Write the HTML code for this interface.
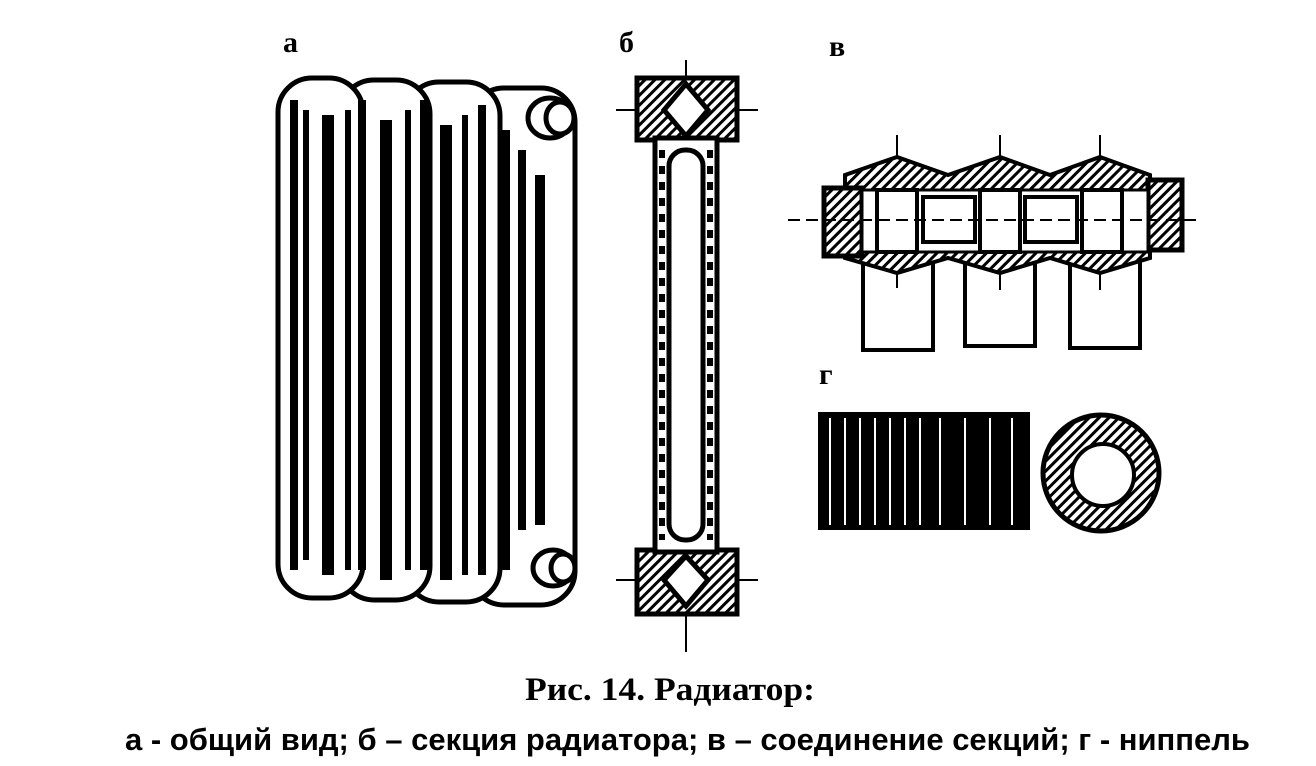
<!DOCTYPE html>
<html><head><meta charset="utf-8"><style>
html,body{margin:0;padding:0;background:#fff;width:1316px;height:766px;overflow:hidden}
svg{position:absolute;left:0;top:0}
.t{font-family:"Liberation Serif",serif;font-weight:bold}
</style></head><body>
<svg width="1316" height="766" viewBox="0 0 1316 766">
<defs>
<pattern id="h" width="7" height="7" patternUnits="userSpaceOnUse" patternTransform="rotate(45)">
<rect width="7" height="7" fill="#fff"/><rect width="3" height="7" fill="#000"/></pattern>
</defs>
<!-- labels -->
<text x="283" y="52" class="t" font-size="30">а</text>
<text x="619" y="52" class="t" font-size="30">б</text>
<text x="829" y="56" class="t" font-size="30">в</text>
<text x="819" y="384" class="t" font-size="30">г</text>

<!-- (а) radiator -->
<g stroke="#000" fill="#fff" stroke-width="5">
<rect x="470" y="88" width="105" height="517" rx="34"/>
<rect x="405" y="82" width="95" height="520" rx="34"/>
<rect x="340" y="80" width="90" height="520" rx="34"/>
<rect x="278" y="78" width="85" height="520" rx="34"/>
</g>
<g fill="#000">
<rect x="290" y="100" width="8" height="470"/><rect x="303" y="110" width="6" height="450"/>
<rect x="322" y="115" width="12" height="460"/><rect x="345" y="110" width="6" height="460"/>
<rect x="358" y="100" width="8" height="470"/><rect x="380" y="120" width="12" height="460"/>
<rect x="405" y="110" width="6" height="460"/><rect x="420" y="100" width="8" height="470"/>
<rect x="440" y="125" width="12" height="455"/><rect x="462" y="115" width="6" height="460"/>
<rect x="478" y="105" width="8" height="470"/><rect x="498" y="130" width="12" height="440"/>
<rect x="518" y="150" width="8" height="380"/><rect x="535" y="175" width="10" height="350"/>
</g>
<g stroke="#000" stroke-width="5" fill="#fff">
<ellipse cx="550" cy="118" rx="22" ry="20"/><ellipse cx="560" cy="118" rx="14" ry="16"/>
<ellipse cx="553" cy="568" rx="20" ry="18"/><ellipse cx="563" cy="568" rx="12" ry="14"/>
</g>

<!-- (б) section -->
<g stroke="#000" stroke-width="2">
<line x1="686" y1="60" x2="686" y2="150"/><line x1="616" y1="110" x2="758" y2="110"/>
<line x1="686" y1="540" x2="686" y2="652"/><line x1="616" y1="580" x2="758" y2="580"/>
</g>
<rect x="637" y="78" width="100" height="62" fill="url(#h)" stroke="#000" stroke-width="5"/>
<rect x="637" y="550" width="100" height="64" fill="url(#h)" stroke="#000" stroke-width="5"/>
<path d="M686 84 L708 110 L686 136 L664 110 Z" fill="#fff" stroke="#000" stroke-width="5"/>
<path d="M686 556 L708 580 L686 606 L664 580 Z" fill="#fff" stroke="#000" stroke-width="5"/>
<rect x="655" y="138" width="62" height="414" fill="#fff" stroke="#000" stroke-width="5"/>
<rect x="669" y="150" width="34" height="390" rx="16" fill="#fff" stroke="#000" stroke-width="5"/>
<g stroke="#000" stroke-width="6" stroke-dasharray="8 8">
<line x1="662" y1="150" x2="662" y2="540"/><line x1="710" y1="150" x2="710" y2="540"/></g>

<!-- (в) connection -->
<g stroke="#000" stroke-width="2">
<line x1="897" y1="135" x2="897" y2="158"/><line x1="1000" y1="135" x2="1000" y2="158"/><line x1="1100" y1="135" x2="1100" y2="158"/>
</g>
<g stroke="#000" stroke-width="4" fill="#fff">
<rect x="863" y="258" width="70" height="92"/><rect x="965" y="258" width="70" height="88"/><rect x="1070" y="258" width="70" height="90"/>
</g>
<path d="M845 175 L897 157 L948 175 L1000 157 L1050 175 L1100 157 L1150 175 L1150 258 L1100 273 L1050 258 L1000 273 L948 258 L897 273 L845 258 Z" fill="url(#h)" stroke="#000" stroke-width="4"/>
<rect x="824" y="188" width="38" height="68" fill="url(#h)" stroke="#000" stroke-width="5"/>
<rect x="1148" y="180" width="34" height="70" fill="url(#h)" stroke="#000" stroke-width="5"/>
<rect x="862" y="190" width="286" height="62" fill="#fff" stroke="#000" stroke-width="3"/>
<g stroke="#000" stroke-width="4" fill="#fff">
<rect x="877" y="190" width="40" height="62"/><rect x="980" y="190" width="40" height="62"/><rect x="1082" y="190" width="40" height="62"/>
<rect x="923" y="197" width="52" height="45"/><rect x="1025" y="197" width="52" height="45"/>
</g>
<line x1="788" y1="220" x2="1202" y2="220" stroke="#000" stroke-width="2" stroke-dasharray="12 6"/>
<g stroke="#000" stroke-width="2"><line x1="897" y1="273" x2="897" y2="288"/><line x1="1000" y1="273" x2="1000" y2="290"/><line x1="1100" y1="273" x2="1100" y2="290"/></g>

<!-- (г) nipple -->
<rect x="818" y="412" width="212" height="118" fill="#000"/>
<g stroke="#fff" stroke-width="2">
<line x1="830" y1="418" x2="830" y2="525"/><line x1="845" y1="418" x2="845" y2="525"/><line x1="860" y1="418" x2="860" y2="525"/>
<line x1="875" y1="418" x2="875" y2="525"/><line x1="890" y1="418" x2="890" y2="525"/><line x1="905" y1="418" x2="905" y2="525"/>
<line x1="920" y1="418" x2="920" y2="525"/><line x1="940" y1="418" x2="940" y2="525"/><line x1="965" y1="418" x2="965" y2="525"/>
<line x1="990" y1="418" x2="990" y2="525"/><line x1="1012" y1="418" x2="1012" y2="525"/>
</g>
<circle cx="1101" cy="473" r="58" fill="url(#h)" stroke="#000" stroke-width="5"/>
<circle cx="1103" cy="475" r="31" fill="#fff" stroke="#000" stroke-width="4"/>

<!-- caption -->
<text x="670" y="700" text-anchor="middle" font-family="Liberation Serif,serif" font-weight="bold" font-size="33" textLength="290" lengthAdjust="spacingAndGlyphs">Рис. 14. Радиатор:</text>
<text x="125" y="750" font-family="Liberation Sans Narrow,Liberation Sans,sans-serif" font-weight="bold" font-size="31" textLength="1125" lengthAdjust="spacingAndGlyphs">а - общий вид; б – секция радиатора; в – соединение секций; г - ниппель</text>
</svg>
</body></html>
